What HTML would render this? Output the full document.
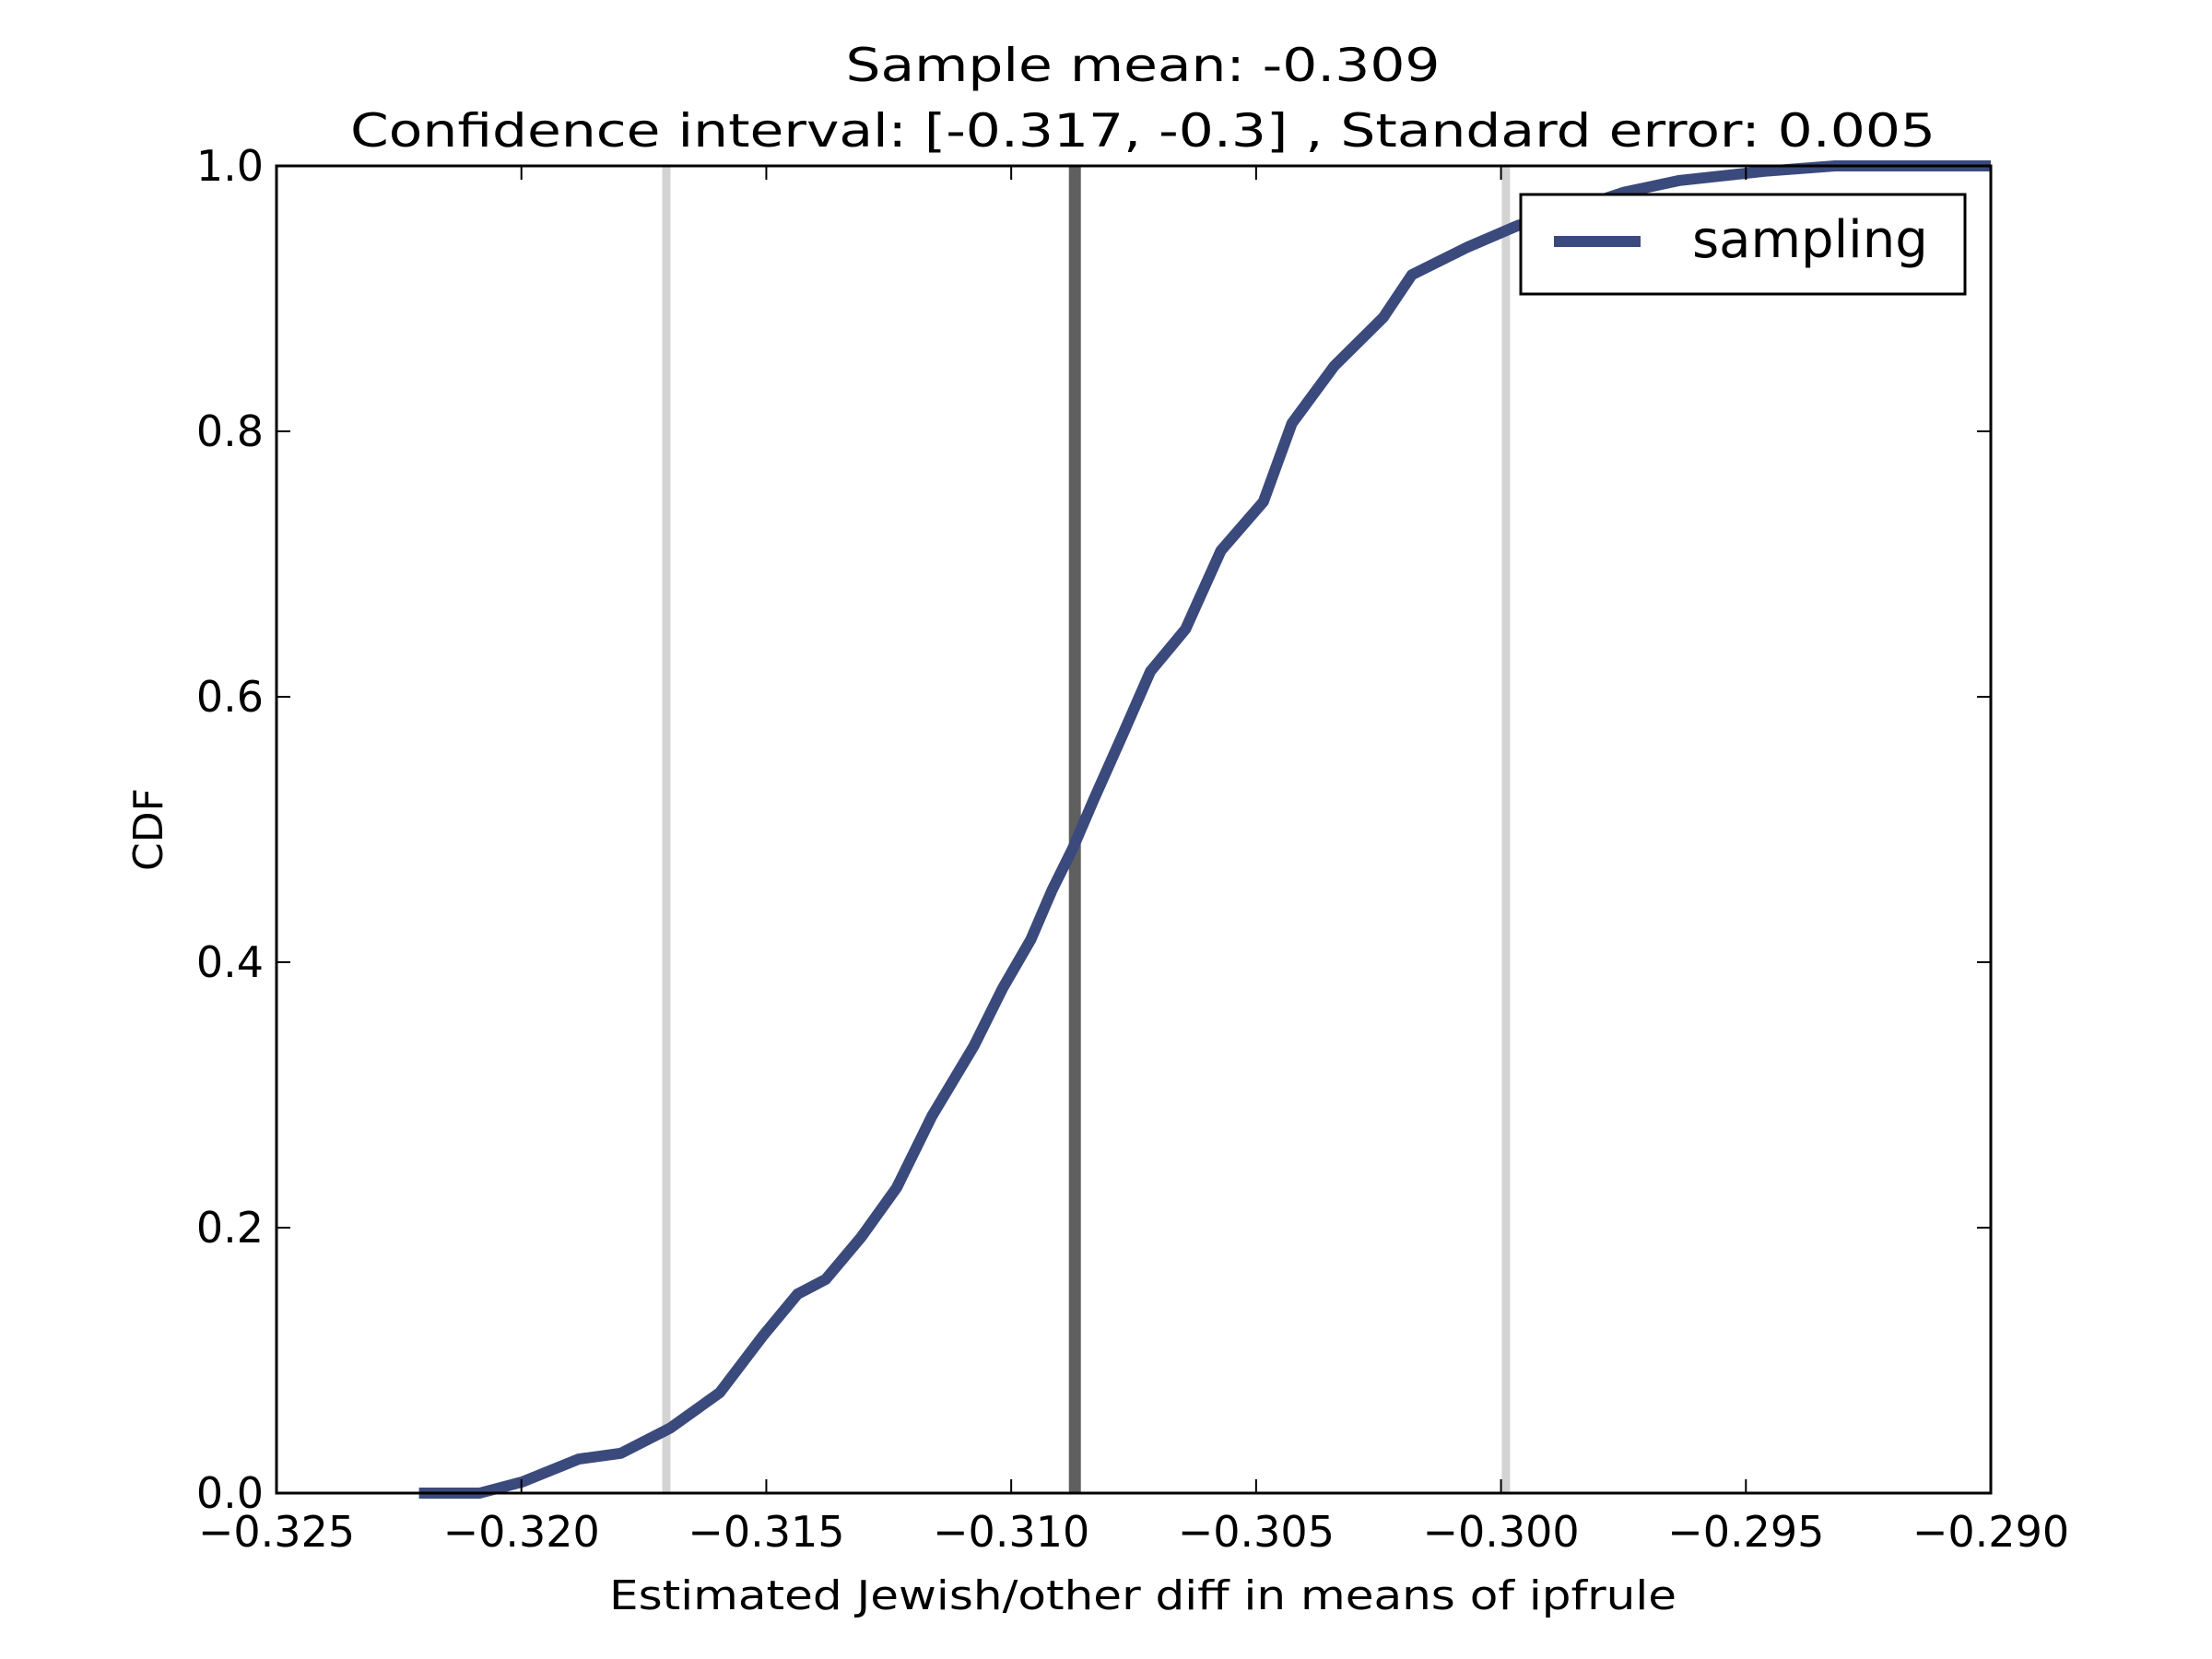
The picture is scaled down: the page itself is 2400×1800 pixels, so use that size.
<!DOCTYPE html>
<html><head><meta charset="utf-8"><style>html,body{margin:0;padding:0;background:#fff}svg{display:block}</style></head>
<body>
<svg id="chart" width="2400" height="1800" xmlns="http://www.w3.org/2000/svg" font-family="'DejaVu Sans','Liberation Sans',sans-serif">
<rect width="2400" height="1800" fill="#fff"/>
<text x="1240" y="88" font-size="50" text-anchor="middle" textLength="645" lengthAdjust="spacingAndGlyphs">Sample mean: -0.309</text>
<text x="1240" y="159" font-size="50" text-anchor="middle" textLength="1720" lengthAdjust="spacingAndGlyphs">Confidence interval: [-0.317, -0.3] , Standard error: 0.005</text>
<g id="plot"></g>
<text x="1240" y="1746" font-size="44" text-anchor="middle" textLength="1158" lengthAdjust="spacingAndGlyphs">Estimated Jewish/other diff in means of ipfrule</text>
<text transform="translate(176,900) rotate(-90)" font-size="44" text-anchor="middle">CDF</text>
</svg>
<script>
const xs = [-0.32209,-0.32085,-0.31998,-0.31883,-0.31797,-0.31696,-0.31595,-0.31508,-0.31436,-0.31379,-0.31306,-0.31234,-0.31162,-0.31076,-0.31018,-0.30960,-0.30917,-0.30874,-0.30831,-0.30773,-0.30716,-0.30644,-0.30572,-0.30485,-0.30427,-0.30341,-0.30240,-0.30182,-0.30067,-0.29966,-0.29865,-0.29750,-0.29635,-0.29462,-0.29318,-0.290];
const ps = [0,0,0.0085,0.0256,0.030,0.049,0.0757,0.118,0.150,0.161,0.193,0.230,0.284,0.337,0.380,0.417,0.454,0.486,0.523,0.571,0.619,0.651,0.710,0.747,0.806,0.849,0.886,0.918,0.939,0.955,0.966,0.980,0.989,0.996,1,1];
const ciBounds = [-0.31704, -0.29990];
const meanValue = [-0.30870];
const xTicks = [-0.325,-0.320,-0.315,-0.310,-0.305,-0.300,-0.295,-0.290];
const xTickLabels = ["\u22120.325","\u22120.320","\u22120.315","\u22120.310","\u22120.305","\u22120.300","\u22120.295","\u22120.290"];
const yTicks = [0,0.2,0.4,0.6,0.8,1.0];
const yTickLabels = ["0.0","0.2","0.4","0.6","0.8","1.0"];

const L=300,R=2160,T=180,B=1620;
const X0=-0.325,X1=-0.290;
function sx(v){return L+(v-X0)/(X1-X0)*(R-L);}
function sy(p){return B-p*(B-T);}
const NS="http://www.w3.org/2000/svg";
const g=document.getElementById('plot');
function mk(tag,attrs){const e=document.createElementNS(NS,tag);for(const k in attrs)e.setAttribute(k,attrs[k]);g.appendChild(e);return e;}

ciBounds.forEach((v,i)=>{
  const e=mk('line',{x1:sx(v),x2:sx(v),y1:T,y2:B,stroke:'#d3d3d3','stroke-width':9});
  
  
});
meanValue.forEach(v=>{
  const e=mk('line',{x1:sx(v),x2:sx(v),y1:T,y2:B,stroke:'#5f5f5f','stroke-width':13});
  
  
});
const pts=xs.map((x,i)=>sx(x).toFixed(1)+','+sy(ps[i]).toFixed(1)).join(' ');
const curve=mk('polyline',{points:pts,fill:'none',stroke:'#3b4a7c','stroke-width':12,'stroke-linejoin':'round','stroke-linecap':'butt'});



const frame=mk('rect',{x:L,y:T,width:R-L,height:B-T,fill:'none',stroke:'#000','stroke-width':3});



xTicks.forEach((v,i)=>{
  const x=sx(v);
  mk('line',{x1:x,x2:x,y1:B,y2:B-15,stroke:'#000','stroke-width':2});
  mk('line',{x1:x,x2:x,y1:T,y2:T+15,stroke:'#000','stroke-width':2});
  const t=mk('text',{x:x,y:1678,'font-size':46,'text-anchor':'middle'});
  t.textContent=xTickLabels[i];
  
  
});
yTicks.forEach((v,i)=>{
  const y=sy(v);
  mk('line',{x1:L,x2:L+15,y1:y,y2:y,stroke:'#000','stroke-width':2});
  mk('line',{x1:R,x2:R-15,y1:y,y2:y,stroke:'#000','stroke-width':2});
  const t=mk('text',{x:286,y:y+16,'font-size':46,'text-anchor':'end'});
  t.textContent=yTickLabels[i];
  
  
});

const lg=mk('rect',{x:1650,y:211,width:482,height:108,fill:'#fff',stroke:'#000','stroke-width':3});


const ll=mk('line',{x1:1686,x2:1780,y1:262,y2:262,stroke:'#3b4a7c','stroke-width':12});


const lt=mk('text',{x:1836,y:279,'font-size':56});
lt.textContent='sampling';


</script>
</body></html>
